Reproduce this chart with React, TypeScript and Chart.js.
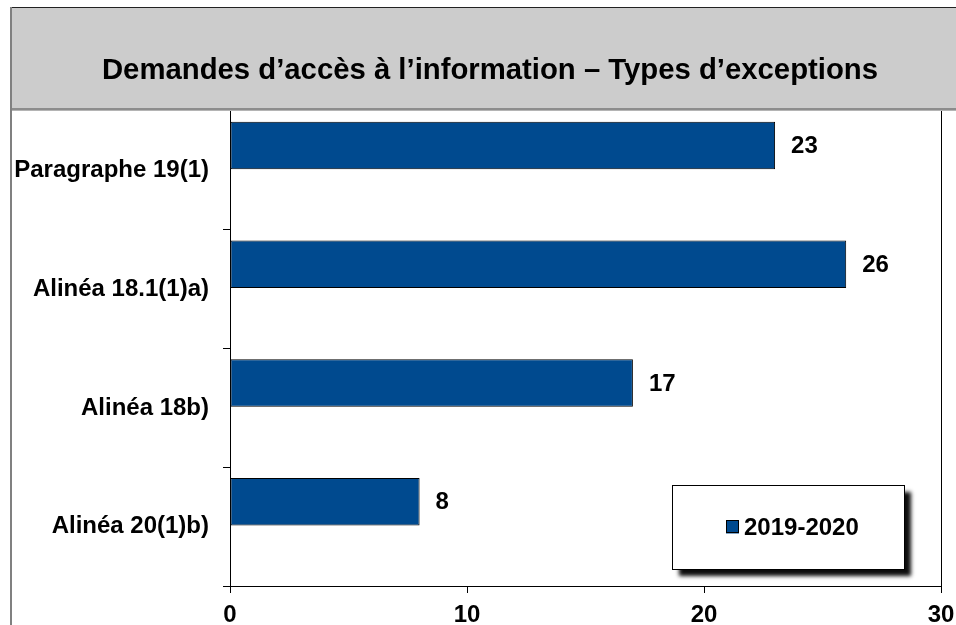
import React, { useEffect, useRef } from "react";
import { Chart, registerables } from "chart.js";

Chart.register(...registerables);

const TITLE = "Demandes d’accès à l’information – Types d’exceptions";
const CATEGORIES = ["Paragraphe 19(1)", "Alinéa 18.1(1)a)", "Alinéa 18b)", "Alinéa 20(1)b)"];
const SERIES_LABEL = "2019-2020";
const SERIES_VALUES = [23, 26, 17, 8];
const EMPTY_SERIES = [null, null, null, null];
const X_MIN = 0;
const X_MAX = 30;
const X_STEP = 10;

const BAR_COLOR = "#004a8f";
const FONT = "'Liberation Sans', Arial, sans-serif";

const framePlugin = {
  id: "frame",
  beforeDraw(chart: any) {
    const { ctx, width, height, chartArea } = chart;
    ctx.save();
    ctx.fillStyle = "#ffffff";
    ctx.fillRect(0, 0, width, height);
    // gray title band
    ctx.fillStyle = "#cccccc";
    ctx.fillRect(11, 8, width - 11, chartArea.top - 8);
    // bottom line of title band
    ctx.fillStyle = "#8c8c8c";
    ctx.fillRect(11, chartArea.top - 3, width - 11, 2);
    ctx.fillStyle = "#b4b4b4";
    ctx.fillRect(11, chartArea.top - 1, width - 11, 1);
    // top frame line
    ctx.fillStyle = "#222222";
    ctx.fillRect(10, 7, width - 10, 1);
    // left frame line
    ctx.fillStyle = "#808080";
    ctx.fillRect(10, 7, 2, height - 7);
    // title text
    ctx.fillStyle = "#000";
    ctx.font = `bold 29.3px ${FONT}`;
    ctx.textAlign = "center";
    ctx.textBaseline = "middle";
    ctx.fillText(TITLE, 490, 71);
    ctx.restore();
  },
  afterDraw(chart: any) {
    const { ctx, chartArea } = chart;
    ctx.save();
    ctx.strokeStyle = "#000";
    ctx.lineWidth = 1;
    ctx.beginPath();
    ctx.moveTo(Math.round(chartArea.right) + 0.5, chartArea.top);
    ctx.lineTo(Math.round(chartArea.right) + 0.5, chartArea.bottom);
    ctx.stroke();
    ctx.restore();
  },
};

const valueLabelPlugin = {
  id: "valueLabels",
  afterDatasetsDraw(chart: any) {
    const { ctx } = chart;
    const meta = chart.getDatasetMeta(0);
    const ds = chart.data.datasets[0];
    ctx.save();
    ctx.fillStyle = "#000";
    ctx.font = `bold 24px ${FONT}`;
    ctx.textAlign = "left";
    ctx.textBaseline = "middle";
    meta.data.forEach((bar: any, i: number) => {
      const v = ds.data[i];
      if (v == null) return;
      ctx.fillText(String(v), bar.x + 16, bar.y + 1);
    });
    ctx.restore();
  },
};

const boxLegendPlugin = {
  id: "boxLegend",
  afterDraw(chart: any) {
    const { ctx, chartArea } = chart;
    const ds = chart.data.datasets[0];
    const w = 232;
    const h = 84;
    const x = chartArea.right - 37 - w;
    const y = chartArea.bottom - 17 - h;
    ctx.save();
    ctx.shadowColor = "rgba(0,0,0,0.95)";
    ctx.shadowBlur = 4;
    ctx.shadowOffsetX = 7;
    ctx.shadowOffsetY = 7;
    ctx.fillStyle = "#fff";
    ctx.fillRect(x, y, w, h);
    ctx.shadowColor = "transparent";
    ctx.strokeStyle = "#000";
    ctx.lineWidth = 1;
    ctx.strokeRect(x + 0.5, y + 0.5, w, h);
    const cy = y + h / 2;
    ctx.fillStyle = ds.backgroundColor;
    ctx.fillRect(x + 54, cy - 6.5, 13, 13);
    ctx.strokeRect(x + 54.5, cy - 6.5, 12, 12);
    ctx.fillStyle = "#000";
    ctx.font = `bold 24px ${FONT}`;
    ctx.textAlign = "left";
    ctx.textBaseline = "middle";
    ctx.fillText(ds.label, x + 72, cy + 1);
    ctx.restore();
  },
};

export default function App() {
  const ref = useRef<HTMLCanvasElement | null>(null);

  useEffect(() => {
    if (!ref.current) return;
    Chart.defaults.font.family = FONT;
    Chart.defaults.color = "#000";
    const chart = new Chart(ref.current, {
      type: "bar",
      data: {
        labels: CATEGORIES,
        datasets: [
          {
            label: SERIES_LABEL,
            data: SERIES_VALUES,
            backgroundColor: BAR_COLOR,
            borderColor: "#000",
            borderWidth: 1,
            borderSkipped: false,
            categoryPercentage: 0.84,
            barPercentage: 0.95,
          },
          {
            label: "",
            data: EMPTY_SERIES as any,
            backgroundColor: BAR_COLOR,
            categoryPercentage: 0.84,
            barPercentage: 0.95,
          },
        ],
      },
      options: {
        indexAxis: "y",
        animation: false,
        responsive: true,
        maintainAspectRatio: false,
        layout: { padding: { left: 0, right: 15, top: 111, bottom: 0 } },
        plugins: {
          legend: { display: false },
          tooltip: { enabled: false },
          title: { display: false },
        },
        scales: {
          x: {
            min: X_MIN,
            max: X_MAX,
            ticks: {
              stepSize: X_STEP,
              color: "#000",
              font: { size: 24, weight: "bold", family: FONT },
              padding: 8,
              maxRotation: 0,
            },
            grid: {
              drawOnChartArea: false,
              drawTicks: true,
              tickLength: 7,
              color: "#000",
            },
            border: { color: "#000", width: 1 },
            afterFit(scale: any) {
              scale.height = 39;
              scale.paddingRight = 0;
              scale.paddingLeft = 0;
            },
          },
          y: {
            ticks: {
              color: "#000",
              font: { size: 24, weight: "bold", family: FONT },
              padding: 14,
            },
            grid: {
              offset: true,
              drawOnChartArea: false,
              drawTicks: true,
              tickLength: 7,
              color: (c: any) => (c.index === 0 ? "rgba(0,0,0,0)" : "#000"),
            },
            border: { color: "#000", width: 1 },
            afterFit(scale: any) {
              scale.width = 230;
              scale.paddingTop = 0;
              scale.paddingBottom = 0;
            },
          },
        },
      },
      plugins: [framePlugin, valueLabelPlugin, boxLegendPlugin],
    });
    return () => chart.destroy();
  }, []);

  return (
    <div style={{ position: "fixed", left: 0, top: 0, width: 956, height: 625 }}>
      <canvas ref={ref} />
    </div>
  );
}
